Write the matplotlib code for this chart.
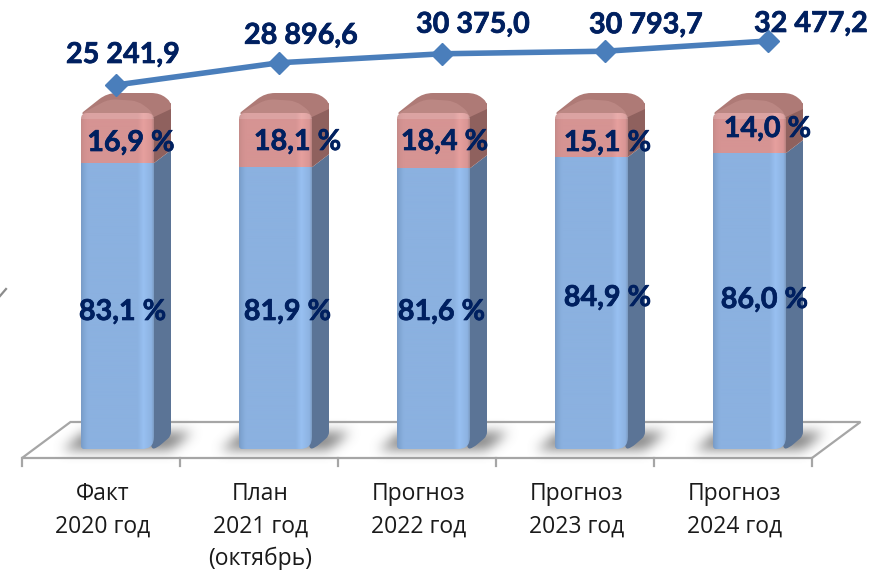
import numpy as np
import matplotlib
matplotlib.use("Agg")
import matplotlib.pyplot as plt
import matplotlib.patheffects as pe
from matplotlib.patches import Polygon, PathPatch, Rectangle
from matplotlib.path import Path
from matplotlib.colors import LinearSegmentedColormap as LSC

FONT = ['Lato', 'Open Sans', 'DejaVu Sans']

categories = ["Факт\n2020 год", "План\n2021 год\n(октябрь)", "Прогноз\n2022 год",
              "Прогноз\n2023 год", "Прогноз\n2024 год"]
blue_share = [83.1, 81.9, 81.6, 84.9, 86.0]
pink_share = [16.9, 18.1, 18.4, 15.1, 14.0]
totals = [25241.9, 28896.6, 30375.0, 30793.7, 32477.2]
blue_labels = ["83,1 %", "81,9 %", "81,6 %", "84,9 %", "86,0 %"]
pink_labels = ["16,9 %", "18,1 %", "18,4 %", "15,1 %", "14,0 %"]
total_labels = ["25 241,9", "28 896,6", "30 375,0", "30 793,7", "32 477,2"]

W, H = 878, 570
fig = plt.figure(figsize=(W / 100, H / 100), dpi=100, facecolor="white")

PX_X, X0 = 158.0, 117.5
PX_Y, Y0 = 3.44, 449.0
ax = fig.add_axes([0, 0, 1, 1])
ax.set_xlim(-X0 / PX_X, (W - X0) / PX_X)
ax.set_ylim(-(H - Y0) / PX_Y, Y0 / PX_Y)
ax.axis("off")
dx = lambda p: p / PX_X
dy = lambda p: p / PX_Y

BW = 73 / PX_X
NAVY = "#002060"
BOLD = [pe.withStroke(linewidth=0.5, foreground=NAVY)]


def smooth(points, radius):
    """Closed path through points with corners rounded; radius in pixels."""
    verts, codes = [], []
    pts = np.array(points)
    m = len(pts)
    for j in range(m):
        p = pts[j]
        a, c = pts[j - 1], pts[(j + 1) % m]
        r = radius[j]
        def toward(q):
            v = np.array([(q[0] - p[0]) * PX_X, (q[1] - p[1]) * PX_Y])
            L = np.hypot(*v) or 1
            t = min(r / L, 0.5)
            return p + (q - p) * t
        s, e = toward(a), toward(c)
        verts += [tuple(s), tuple(p), tuple(e)]
        codes += [Path.MOVETO if j == 0 else Path.LINETO, Path.CURVE3, Path.CURVE3]
    verts.append(verts[0])
    codes.append(Path.CLOSEPOLY)
    return Path(verts, codes)


# floor
n = len(categories)
fx0 = (22 - X0) / PX_X
fx1 = fx0 + n
fb = dy(-9)
ft = dy(27)
sk = dx(48.5)
ax.add_patch(Polygon([(fx0, fb), (fx1, fb), (fx1 + sk, ft), (fx0 + sk, ft)], closed=True,
                     fc="white", ec="#a6a6a6", lw=1.6, zorder=1))
for i in range(n + 1):
    ax.plot([fx0 + i, fx0 + i], [fb, fb - dy(8)], color="#a6a6a6", lw=1.6, zorder=1)

# soft shadows on the floor
res = 2
sh = np.zeros((H // res, W // res))
yy, xx = np.mgrid[0:H // res, 0:W // res]
xx = xx * res
yy = yy * res
for i in range(n):
    cx = X0 + PX_X * i
    t = (449 - yy) / 18.0
    inside = (yy > 430) & (yy < 449) & (xx > cx - 56 + 22 * t) & (xx < cx + 52 + 22 * t)
    sh[inside] = 1
for _ in range(4):
    k = np.ones(5) / 5
    sh = np.apply_along_axis(lambda m: np.convolve(m, k, mode="same"), 0, sh)
    sh = np.apply_along_axis(lambda m: np.convolve(m, k, mode="same"), 1, sh)
rgba = np.zeros(sh.shape + (4,))
rgba[..., :3] = 0.5
rgba[..., 3] = np.clip(sh * 0.95, 0, 1)
ax.imshow(rgba, extent=[*ax.get_xlim(), *ax.get_ylim()], origin="upper", aspect="auto",
          zorder=1.5, interpolation="bilinear")

stops = [0, .03, .09, .78, .86, .97, 1]
blue_cm = LSC.from_list("b", list(zip(stops, ["#7a9cc6", "#7fa5d3", "#8bb1e0", "#8bb1e0",
                                              "#98c0f1", "#8db3e2", "#7d9dc5"])))
pink_cm = LSC.from_list("p", list(zip(stops, ["#c58b89", "#cf8f8e", "#d69493", "#d69493",
                                              "#e6a09e", "#d99594", "#b98381"])))
grad = np.linspace(0, 1, 146).reshape(1, -1)

SX, SY = dx(17), dy(13)
BEV = dy(8)
for i, (b, p) in enumerate(zip(blue_share, pink_share)):
    x0, x1 = i - BW / 2, i + BW / 2
    top = b + p - BEV
    # side faces
    ax.add_patch(PathPatch(smooth([(x1 - dx(3), 0), (x1 + dx(3), dy(1)), (x1 + SX, SY), (x1 + SX, b + SY), (x1 - dx(2), b - dy(1.5))],
                                  [6, 6, 4, 0, 0]), fc="#5b7496", ec="none", zorder=2))
    ax.add_patch(Polygon([(x1 - dx(2), b - dy(1.5)), (x1 + SX, b + SY), (x1 + SX, top + dy(10)), (x1 - dx(2), top - dy(2))],
                         closed=True, fc="#8f615e", ec="none", zorder=2))
    # top faces
    tp = [(x0 - dx(0.5), top - dy(1)), (x0 + dx(26), top + dy(20)), (x1 + dx(6), top + dy(20)),
          (x1 + SX, top + dy(11)), (x1 + SX, top + dy(4)), (x1, top - dy(4))]
    ax.add_patch(PathPatch(smooth(tp, [4, 10, 9, 5, 0, 0]), fc="#ae7a76", ec="none", zorder=2.1))
    inner = [(x0, top - dy(1)), (x0 + dx(28), top + dy(14)), (x0 + dx(57), top + dy(12)),
             (x1 - dx(4), top + dy(3)), (x1, top - dy(4))]
    ax.add_patch(PathPatch(smooth(inner, [4, 8, 7, 3, 0]), fc="#bb8783", ec="none", zorder=2.2))
    # rounded front outline
    front = [(x0, 0), (x1, 0), (x1, top), (x0, top)]
    clip = PathPatch(smooth(front, [3, 12, 7, 6]), transform=ax.transData, fc="none", ec="none")
    ax.add_patch(clip)
    for cm, lo, hi in ((blue_cm, 0, b), (pink_cm, b, top)):
        im = ax.imshow(grad, cmap=cm, vmin=0, vmax=1, extent=[x0, x1, lo, hi], aspect="auto",
                       zorder=3, interpolation="bilinear")
        im.set_clip_path(clip)
    hl = Rectangle((x0, top - dy(6)), BW, dy(6), fc="white", alpha=0.14, ec="none", zorder=3.1)
    ax.add_patch(hl)
    hl.set_clip_path(clip)

ax.set_xlim(-X0 / PX_X, (W - X0) / PX_X)
ax.set_ylim(-(H - Y0) / PX_Y, Y0 / PX_Y)

# share labels
blue_x_off = [5, 12, 8, 16, 15]
pink_x_off = [13.5, 22, 11, 16, 18]
blue_y_px = [312, 312, 312, 298, 300]
pink_y_px = [143, 142, 142, 143, 129]
for i in range(n):
    ax.text(i + dx(blue_x_off[i]), (Y0 - blue_y_px[i]) / PX_Y, blue_labels[i], ha="center", va="center",
            family=FONT, weight="bold", fontsize=20.7, color=NAVY, zorder=5, path_effects=BOLD)
    ax.text(i + dx(pink_x_off[i]), (Y0 - pink_y_px[i]) / PX_Y, pink_labels[i], ha="center", va="center",
            family=FONT, weight="bold", fontsize=20.7, color=NAVY, zorder=5, path_effects=BOLD)

# category labels
for i, c in enumerate(categories):
    ax.text(i - dx(15), (Y0 - 482) / PX_Y, c, ha="center", va="top", family=['Open Sans', 'DejaVu Sans'],
            fontsize=16.5, color="#1a1a1a", linespacing=1.47, zorder=5)

# stray axis tick at the left edge
ax.plot([-X0 / PX_X, -X0 / PX_X + dx(6)], [(Y0 - 296) / PX_Y, (Y0 - 289) / PX_Y],
        color="#8c8c8c", lw=1.6, zorder=1)

# total line, on its own overlay scale
LX0, LPX = 116.0, 163.0
LV = 164.4
lax = fig.add_axes([0, 0, 1, 1], facecolor="none")
lax.set_xlim(-LX0 / LPX, (W - LX0) / LPX)
lax.set_ylim(totals[0] - (H - 85) * LV, totals[0] + 85 * LV)
lax.axis("off")
lax.plot(range(n), totals, color="#4a7ebb", lw=4.0, marker="D", ms=11, mfc="#4a7ebb", mec="#4a7ebb",
         solid_capstyle="round", zorder=4)
label_dx = [7, 22, 31, 41, 43]
label_dy = [30, 27, 29, 26, 17]
for i in range(n):
    lax.annotate(total_labels[i], (i, totals[i]), xytext=(label_dx[i] * .72, label_dy[i] * .72),
                 textcoords="offset points", ha="center", va="center", family=FONT, weight="bold",
                 fontsize=20.7, color=NAVY, zorder=6, path_effects=BOLD)

fig.savefig("out.png", dpi=100)
